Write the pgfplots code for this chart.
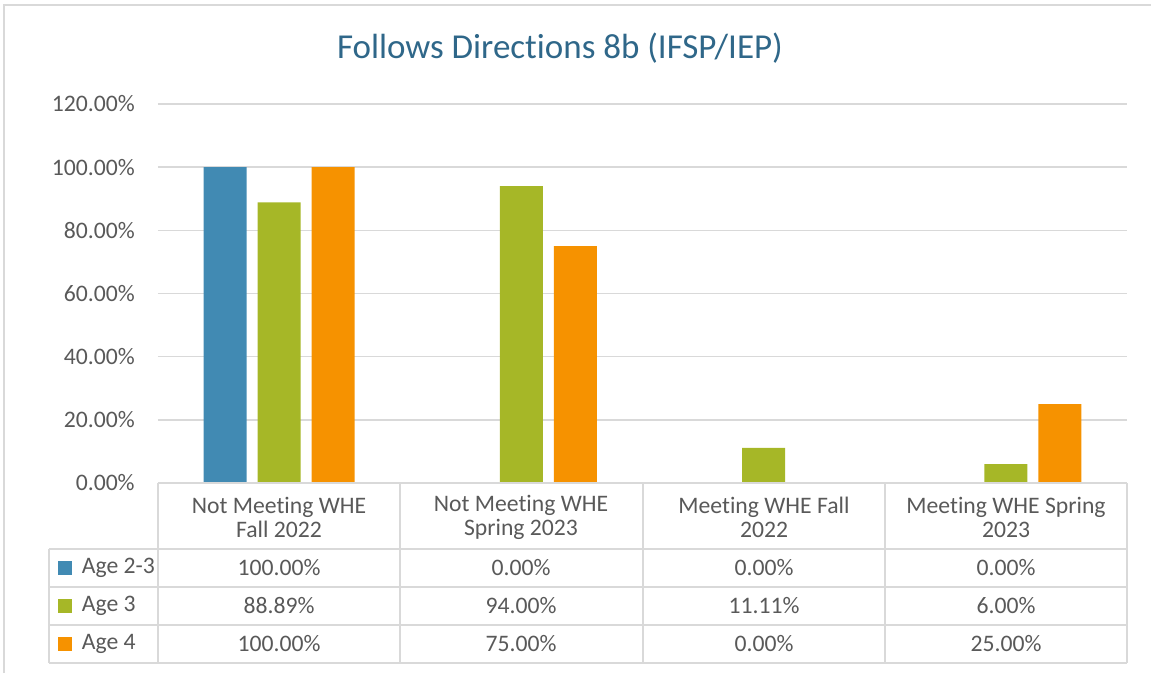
\documentclass[border=0pt]{standalone}
\usepackage{pgfplots}
\pgfplotsset{compat=1.18}
\usepackage{fontspec}
\setmainfont{Carlito}[Ligatures=NoCommon]
\definecolor{cblue}{HTML}{418AB3}
\definecolor{cgreen}{HTML}{A6B727}
\definecolor{corange}{HTML}{F69200}
\definecolor{gridc}{HTML}{D9D9D9}
\definecolor{textc}{HTML}{595959}
\definecolor{titlec}{HTML}{2F6789}
\newcommand{\lbl}{\fontsize{14.2}{14.4}\selectfont}
\begin{document}
\begin{tikzpicture}[x=0.6pt,y=-0.6pt]
\useasboundingbox (0,0) rectangle (1151,673);
\draw[gridc, line width=1.2pt] (4,673) -- (4,5) -- (1151,5);
\node[text=titlec, font=\fontsize{21}{24}\selectfont] at (560,48) {Follows Directions 8b (IFSP/IEP)};
\coordinate (axsw) at (158,483);
\begin{axis}[at={(axsw)}, anchor=south west, scale only axis,
  width=581.4pt, height=227.4pt,
  xmin=0.5, xmax=4.5, ymin=0, ymax=120,
  axis line style={draw=none},
  xtick=\empty, ytick={0,20,...,120}, major tick length=0pt,
  ymajorgrids, grid style={gridc, line width=0.9pt},
  /pgf/number format/assume math mode=true,
  yticklabel={\pgfmathprintnumber[fixed,fixed zerofill,precision=2]{\tick}\%},
  yticklabel style={text=textc, font=\lbl, anchor=east, inner sep=0pt, xshift=-13.8pt},
  ybar]
\addplot[fill=cblue, draw=none, bar width=0.1775, bar shift=-0.223] coordinates {(1,100) (2,0) (3,0) (4,0)};
\addplot[fill=cgreen, draw=none, bar width=0.1775, bar shift=0] coordinates {(1,88.89) (2,94) (3,11.11) (4,6)};
\addplot[fill=corange, draw=none, bar width=0.1775, bar shift=0.223] coordinates {(1,100) (2,75) (3,0) (4,25)};
\end{axis}
% data table
\begin{scope}[gridc, line width=0.9pt]
\draw (158,483) -- (1127,483);
\draw (49,549) -- (1127,549);
\draw (49,587) -- (1127,587);
\draw (49,625) -- (1127,625);
\draw (49,663) -- (1127,663);
\draw (49,549) -- (49,663);
\foreach \xx in {158,400,643,885,1127} {\draw (\xx,483) -- (\xx,663);}
\end{scope}
\begin{scope}[every node/.style={text=textc, font=\lbl, align=center}]
\node at (279,517) {Not Meeting WHE\\Fall 2022};
\node at (521,517) {Not Meeting WHE\\Spring 2023};
\node at (764,517) {Meeting WHE Fall\\2022};
\node at (1006,517) {Meeting WHE Spring\\2023};
\foreach \xx/\a/\b/\c in {279/100.00/88.89/100.00, 521/0.00/94.00/75.00, 764/0.00/11.11/0.00, 1006/0.00/6.00/25.00} {
  \node at (\xx,568) {\a\%};
  \node at (\xx,606) {\b\%};
  \node at (\xx,644) {\c\%};
}
\node[anchor=west] at (76,568) {Age 2-3};
\node[anchor=west] at (76,606) {Age 3};
\node[anchor=west] at (76,644) {Age 4};
\end{scope}
\fill[cblue] (58,561) rectangle (72,575);
\fill[cgreen] (58,599) rectangle (72,613);
\fill[corange] (58,637) rectangle (72,651);
\end{tikzpicture}
\end{document}
